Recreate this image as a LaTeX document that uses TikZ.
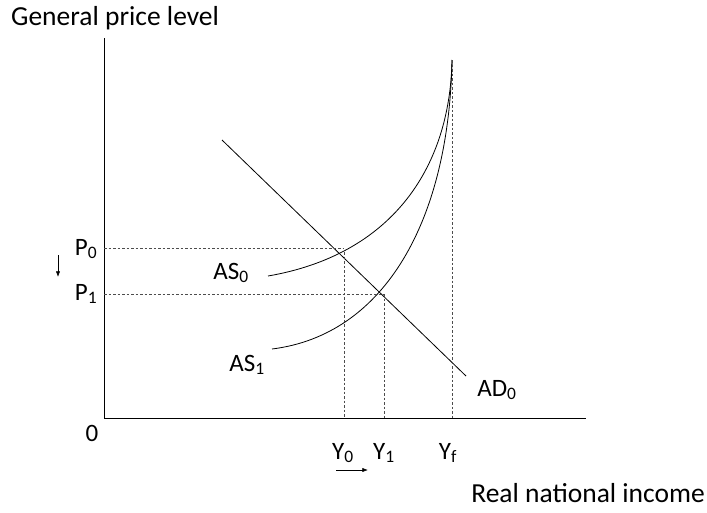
\documentclass[tikz,border=0pt]{standalone}
\usepackage{fontspec}
\setmainfont{Carlito}
\usetikzlibrary{arrows.meta}

\begin{document}
\begin{tikzpicture}[x=1pt, y=-1pt, >=Latex,
    lbl/.style={font=\fontsize{25}{30}\selectfont, inner sep=1pt},
    axtitle/.style={font=\fontsize{27.5}{32}\selectfont, inner sep=1pt},
    guide/.style={black!70, line width=0.6pt, dash pattern=on 2.5pt off 2pt}]
  \useasboundingbox (0,0) rectangle (707,512);
  % axes
  \coordinate (O) at (104,418);
  \coordinate (top) at (104,38);
  \coordinate (right) at (586,418);
  \draw[line width=0.8pt] (top) -- (O) -- (right);
  \node[axtitle, anchor=west] (ytitle) at (10,18) {General price level};
  \node[axtitle, anchor=east] (xtitle) at (706,493) {Real national income};
  \node[lbl] (zero) at (92,433) {0};
  % curves
  \coordinate (as0s) at (268,276);
  \coordinate (as1s) at (272,349);
  \coordinate (yftop) at (452,60);
  \draw[line width=0.8pt] (as0s) .. controls (390,255) and (450,170) .. (yftop);
  \draw[line width=0.8pt] (as1s) .. controls (385,335) and (449,220) .. (yftop);
  \coordinate (ads) at (222,140);
  \coordinate (ade) at (466,376);
  \draw[line width=0.8pt] (ads) -- (ade);
  % equilibrium points
  \coordinate (E0) at (344,252);
  \coordinate (E1) at (384,294);
  \draw[guide] (104,248) -- (E0 |- 0,248);
  \draw[guide] (104,294) -- (E1);
  \draw[guide] (E0) -- (E0 |- O);
  \draw[guide] (E1) -- (E1 |- O);
  \draw[guide] (yftop) -- (yftop |- O);
  % labels
  \node[lbl] (p0) at (86,249) {P\textsubscript{0}};
  \node[lbl] (p1) at (86,294) {P\textsubscript{1}};
  \node[lbl] (y0) at (343,453) {Y\textsubscript{0}};
  \node[lbl] (y1) at (384,453) {Y\textsubscript{1}};
  \node[lbl] (yf) at (448,453) {Y\textsubscript{f}};
  \node[lbl] (as0) at (231,273) {AS\textsubscript{0}};
  \node[lbl] (as1) at (247,365) {AS\textsubscript{1}};
  \node[lbl] (ad0) at (497,390) {AD\textsubscript{0}};
  \coordinate (pa) at (58,255);
  \coordinate (pb) at (58,277);
  \draw[->, line width=0.6pt] (pa) -- (pb);
  \coordinate (ya) at (336,470);
  \coordinate (yb) at (368,470);
  \draw[->, line width=0.6pt] (ya) -- (yb);
\end{tikzpicture}
\end{document}
